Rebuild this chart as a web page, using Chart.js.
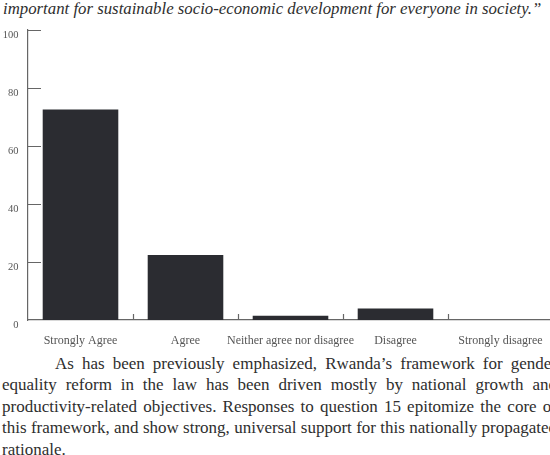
<!DOCTYPE html>
<html>
<head>
<meta charset="utf-8">
<script src="https://cdn.jsdelivr.net/npm/chart.js@4.4.0/dist/chart.umd.min.js"></script>
<style>
  html, body { margin: 0; padding: 0; background: #fff; width: 550px; height: 455px; overflow: hidden; }
  body { position: relative; font-family: "Liberation Serif", "DejaVu Serif", serif; color: #2e2e2e; }
  #quote { position: absolute; left: 3px; top: 0px; font-style: italic; font-size: 16.8px; line-height: 18px; white-space: nowrap; }
  #chartBox { position: absolute; left: 0; top: 0; width: 560px; height: 350px; }
  #para { position: absolute; left: 2px; top: 353px; width: 555px; font-size: 17px; line-height: 21.4px; }
  #para div { text-align: justify; text-align-last: justify; white-space: nowrap; }
  #para div.last { text-align-last: left; }
  #para div.first { text-indent: 53px; }
</style>
</head>
<body>
<div id="quote">important for sustainable socio-economic development for everyone in society.&#8221;</div>
<div id="chartBox"><canvas id="chart" width="560" height="350"></canvas></div>
<div id="para">
  <div class="first">As has been previously emphasized, Rwanda’s framework for gender</div>
  <div>equality reform in the law has been driven mostly by national growth and</div>
  <div>productivity-related objectives. Responses to question 15 epitomize the core of</div>
  <div>this framework, and show strong, universal support for this nationally propagated</div>
  <div class="last">rationale.</div>
</div>

<script>
// Responses (% of respondents)
const categories = ['Strongly Agree', 'Agree', 'Neither agree nor disagree', 'Disagree', 'Strongly disagree'];
const percents = [72.6, 22.4, 1.5, 4.0, 0];
const yTicks = [0, 20, 40, 60, 80, 100];

const serif = '"Liberation Serif", "DejaVu Serif", serif';

// inside tick marks + offset y labels, like the printed figure
const axisMarks = {
    id: 'axisMarks',
    afterDraw(chart) {
        const ctx = chart.ctx;
        const xs = chart.scales.x;
        const ys = chart.scales.y;
        const area = chart.chartArea;
        ctx.save();
        ctx.strokeStyle = '#666';
        ctx.lineWidth = 1.2;
        ctx.beginPath();
        yTicks.forEach(v => {
            if (v === 0) return;
            const py = Math.round(ys.getPixelForValue(v)) + 0.5;
            ctx.moveTo(area.left, py);
            ctx.lineTo(area.left + 13, py);
        });
        for (let i = 1; i < categories.length; i++) {
            const px = Math.round((xs.getPixelForValue(i - 1) + xs.getPixelForValue(i)) / 2) + 0.5;
            ctx.moveTo(px, area.bottom);
            ctx.lineTo(px, area.bottom - 6);
        }
        ctx.stroke();

        ctx.fillStyle = '#555';
        ctx.font = '10.5px ' + serif;
        ctx.textAlign = 'right';
        ctx.textBaseline = 'middle';
        yTicks.forEach(v => {
            ctx.fillText(String(v), 18.5, ys.getPixelForValue(v) + 5.5);
        });
        ctx.restore();
    }
};

const ctx = document.getElementById('chart').getContext('2d');
new Chart(ctx, {
    type: 'bar',
    data: {
        labels: categories,
        datasets: [{
            data: percents,
            backgroundColor: '#2b2c31',
            borderWidth: 0,
            barPercentage: 0.72,
            categoryPercentage: 1
        }]
    },
    options: {
        responsive: false,
        animation: false,
        devicePixelRatio: 1,
        layout: { padding: { top: 30, right: 7, left: 0, bottom: 0 } },
        plugins: { legend: { display: false }, tooltip: { enabled: false } },
        scales: {
            x: {
                offset: true,
                grid: { display: false, drawTicks: false, tickLength: 0 },
                border: { display: true, color: '#666', width: 1.2 },
                ticks: { color: '#555', font: { family: serif, size: 12 }, padding: 14, maxRotation: 0, autoSkip: false },
                afterFit(scale) { scale.height = 30; }
            },
            y: {
                min: 0,
                max: 100,
                afterBuildTicks(scale) { scale.ticks = yTicks.map(v => ({ value: v })); },
                grid: { display: false, drawTicks: false },
                border: { display: true, color: '#666', width: 1.2 },
                ticks: { display: false },
                afterFit(scale) { scale.width = 28; }
            }
        }
    },
    plugins: [axisMarks]
});
</script>
</body>
</html>
